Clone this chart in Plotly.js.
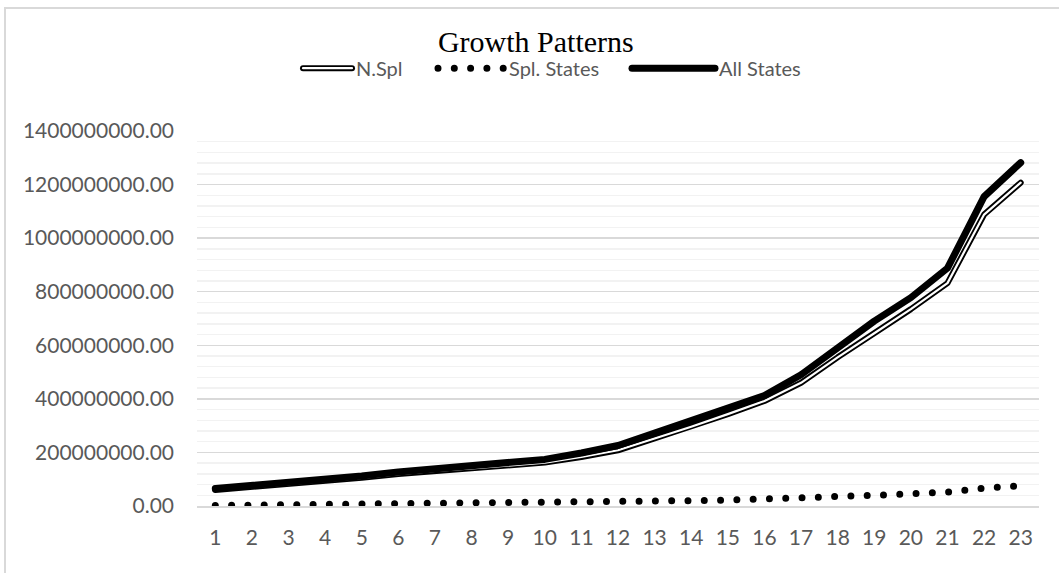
<!DOCTYPE html>
<html>
<head>
<meta charset="utf-8">
<script src="https://cdn.plot.ly/plotly-3.0.1.min.js"></script>
<style>
html,body{margin:0;padding:0;background:#fff;}
#wrap{position:relative;width:1059px;height:573px;overflow:hidden;}
#chart{width:1059px;height:573px;}
#frame{position:absolute;left:4px;top:7px;width:1100px;height:600px;border-left:2px solid #d9d9d9;border-top:2px solid #d9d9d9;pointer-events:none;}
.js-line{stroke-linecap:round;stroke-linejoin:round;}
</style>
</head>
<body>
<div id="wrap"><div id="chart"></div><div id="frame"></div></div>
<script>
const categories = ['1','2','3','4','5','6','7','8','9','10','11','12','13','14','15','16','17','18','19','20','21','22','23'];
const nSpl = [60e6,70e6,82e6,94e6,105e6,119e6,131e6,140e6,150e6,162e6,183e6,208e6,252e6,296e6,343e6,392e6,460e6,555e6,645e6,735e6,832e6,1088e6,1207e6];
const splStates = [2e6,3e6,3.5e6,4e6,5e6,6e6,7e6,8e6,9e6,10e6,11e6,14e6,17e6,20e6,22e6,25e6,30e6,35e6,40e6,46e6,52e6,67e6,75e6];
const allStates = [65e6,76e6,88e6,100e6,112e6,127e6,140e6,150e6,160e6,174e6,198e6,226e6,272e6,318e6,366e6,412e6,490e6,592e6,690e6,778e6,888e6,1155e6,1282e6];
const seriesNames = ['N.Spl','Spl. States','All States'];

const traces = [
  {x: categories, y: nSpl, name: seriesNames[0], type: 'scatter', mode: 'lines',
   line: {color: '#000000', width: 6}},
  {x: categories, y: nSpl, name: seriesNames[0], type: 'scatter', mode: 'lines', showlegend: false,
   line: {color: '#ffffff', width: 2.2}},
  {x: categories, y: splStates, name: seriesNames[1], type: 'scatter', mode: 'lines',
   line: {color: '#000000', width: 7, dash: '0px,16.3px'}},
  {x: categories, y: allStates, name: seriesNames[2], type: 'scatter', mode: 'lines',
   line: {color: '#000000', width: 7}}
];

const tickFont = {family: 'Lato, "Open Sans", sans-serif', size: 21, color: '#595959'};

const layout = {
  width: 1059, height: 573,
  margin: {l: 197, r: 20, t: 131, b: 67},
  paper_bgcolor: '#ffffff', plot_bgcolor: '#ffffff',
  title: {text: 'Growth Patterns', font: {family: '"Liberation Serif", serif', size: 30, color: '#000000'},
          x: 0.506, xref: 'container', xanchor: 'center', y: 0.928, yref: 'container', yanchor: 'middle'},
  showlegend: true,
  legend: {orientation: 'h', xref: 'container', yref: 'container', x: 0.524, xanchor: 'center', y: 0.881, yanchor: 'middle',
           font: {family: 'Lato, "Open Sans", sans-serif', size: 20, color: '#595959'}, itemwidth: 60, traceorder: 'normal'},
  xaxis: {type: 'category', range: [-0.5, 22.5], tickfont: tickFont, showgrid: false, zeroline: false, showline: true, linecolor: '#d9d9d9', linewidth: 1.5,
          ticks: '', ticklabelstandoff: 12, fixedrange: true},
  yaxis: {range: [0, 1400e6], dtick: 200e6, tick0: 0, tickformat: '.2f', tickfont: tickFont, showgrid: true, gridcolor: '#d9d9d9', gridwidth: 1.5,
          zeroline: false, ticks: '', ticklabelstandoff: 22, fixedrange: true,
          minor: {dtick: 40e6, tick0: 0, showgrid: true, gridcolor: '#f2f2f2', gridwidth: 1.5}}
};

// legend decoration: symbol start (container px), symbol length, gap to text
const legendSymStart = [303, 438, 632];
const legendSymLen = [49, 67, 83];
const legendTextGap = 4;

Plotly.newPlot('chart', traces, layout, {staticPlot: true, displayModeBar: false}).then(function(gd){
  const leg = gd.querySelector('.legend');
  if(leg){
    leg.removeAttribute('clip-path');
    leg.querySelectorAll('[clip-path]').forEach(function(e){ e.removeAttribute('clip-path'); });
    const bg = leg.querySelector('rect.bg'); if(bg) bg.style.fill = 'none';
  }
  const items = gd.querySelectorAll('.legend .traces');
  items.forEach(function(item, i){
    const p = item.querySelector('path.js-line');
    if(!p) return;
    const len = legendSymLen[i];
    p.setAttribute('d', 'M0,0h' + len);
    if(i === 0){
      const c = p.cloneNode(true);
      c.style.stroke = '#ffffff';
      c.style.strokeWidth = '2.2px';
      p.parentNode.appendChild(c);
    }
    const t = item.querySelector('text.legendtext');
    if(t){ t.setAttribute('x', len + legendTextGap); t.setAttribute('text-anchor', 'start'); }
    const r = p.getBoundingClientRect();
    const dx = legendSymStart[i] - r.left;
    const tr = item.getAttribute('transform') || '';
    const m = tr.match(/translate\(\s*([-\d.e]+)[ ,]+([-\d.e]+)\s*\)/);
    let tx = 0, ty = 0;
    if(m){ tx = parseFloat(m[1]); ty = parseFloat(m[2]); }
    item.setAttribute('transform', 'translate(' + (tx + dx) + ',' + ty + ')');
  });
});
</script>
</body>
</html>
